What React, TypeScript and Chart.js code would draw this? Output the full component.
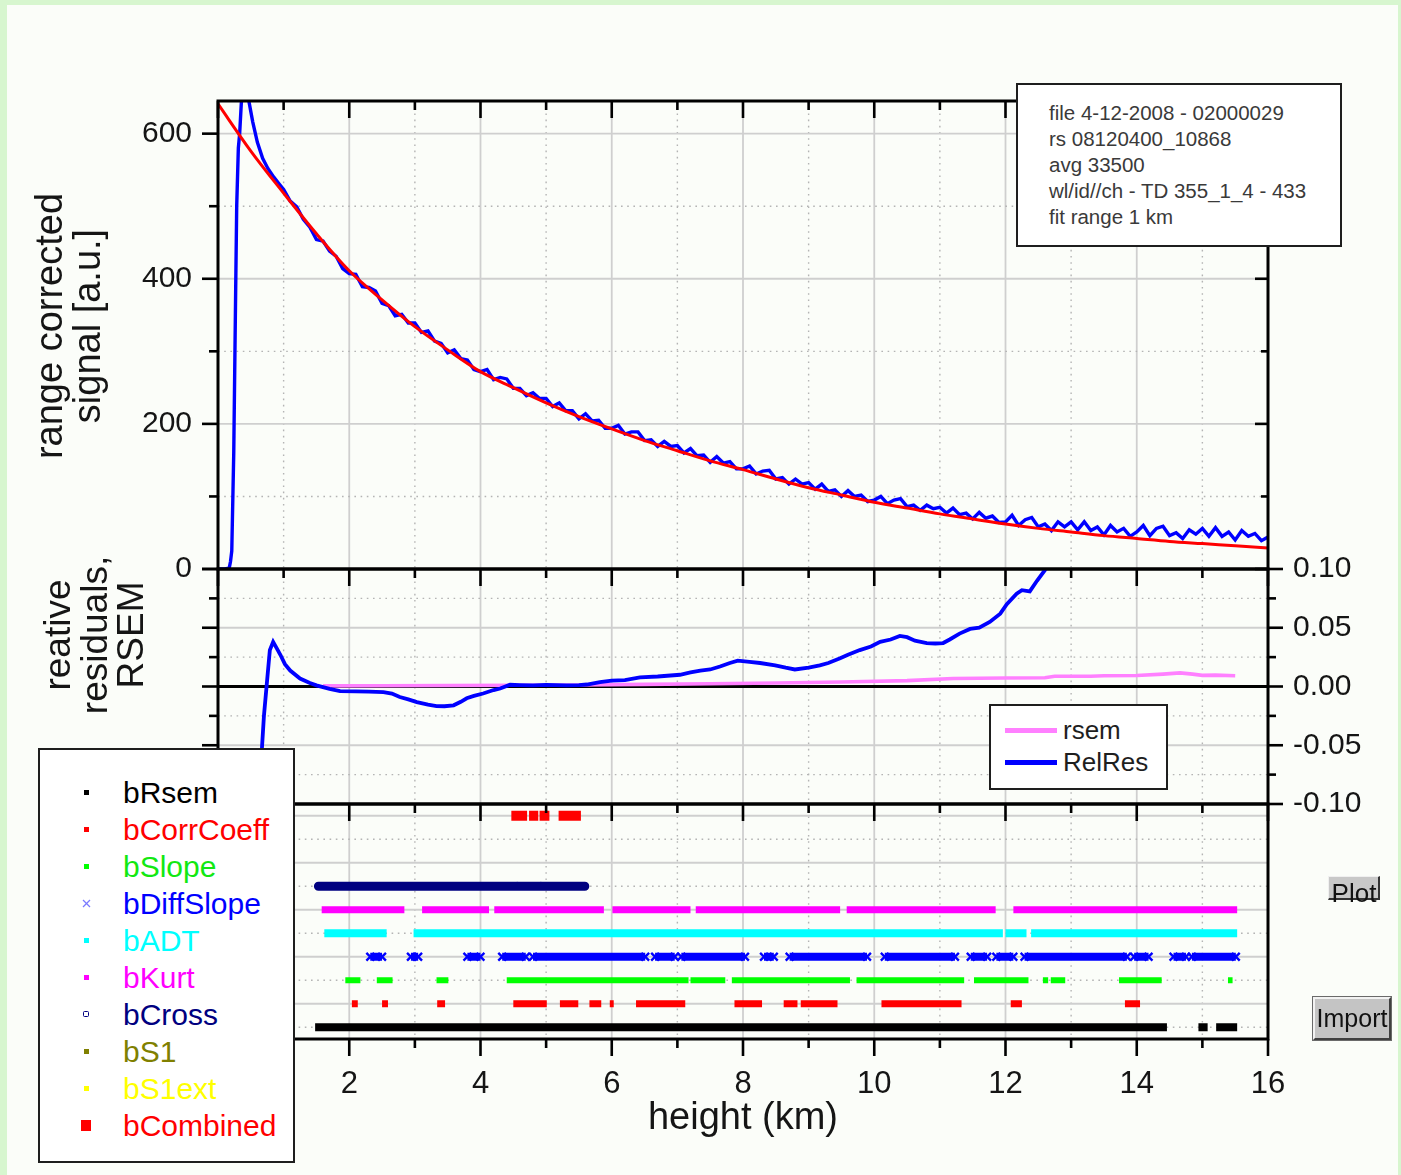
import React, { useEffect, useRef } from "react";
import { Chart, registerables } from "chart.js";
Chart.register(...registerables);

const FONT = '"Liberation Sans", Arial, Helvetica, sans-serif';
const TICK_COLOR = "#151515";

// ---------------- top panel: range corrected signal ----------------
const FIT_X = [0, 0.5, 1, 1.5, 2, 2.5, 3, 3.5, 4, 4.5, 5, 5.5, 6, 6.5, 7, 7.5, 8, 8.5, 9, 9.5, 10, 10.5, 11, 11.5, 12, 12.5, 13, 13.5, 14, 14.5, 15, 15.5, 16];
const FIT_Y = [641, 576, 518, 462, 411, 371, 334, 302, 272, 250, 229, 210, 193, 177, 163, 149, 137, 124, 112, 102, 92, 84, 76, 69, 62, 56, 51, 46, 42, 38, 35, 32, 29];

const SIGNAL_HEAD_X = [0, 0.1, 0.17, 0.19, 0.21, 0.24, 0.27, 0.285, 0.31, 0.33, 0.36, 0.4, 0.44, 0.47, 0.53, 0.6, 0.68, 0.76, 0.85, 0.93];
const SIGNAL_HEAD_Y = [0, 0, 1, 10, 25, 160, 390, 500, 580, 600, 650, 700, 690, 645, 616, 588, 566, 552, 540, 531];
// from 1.0 km to 16.0 km every 0.1 km
const SIGNAL_TAIL_START = 1.0;
const SIGNAL_TAIL_STEP = 0.1;
const SIGNAL_TAIL_Y = [
  523, 507, 499, 482, 471, 454, 452, 438, 431, 414,
  407, 406, 389, 388, 383, 366, 363, 349, 351, 339,
  339, 326, 328, 314, 311, 298, 302, 290, 288, 275,
  272, 275, 261, 264, 262, 249, 249, 239, 243, 235,
  235, 224, 229, 218, 218, 207, 214, 204, 205, 194,
  194, 198, 186, 189, 189, 177, 178, 169, 176, 169,
  170, 160, 166, 156, 157, 147, 155, 146, 148, 138,
  138, 142, 131, 135, 136, 124, 126, 117, 124, 117,
  119, 110, 117, 107, 109, 100, 108, 100, 102, 93,
  95, 100, 90, 95, 97, 86, 88, 81, 88, 83,
  85, 77, 84, 75, 77, 69, 78, 70, 73, 64,
  65, 74, 60, 68, 71, 58, 62, 53, 65, 58,
  65, 54, 65, 53, 58, 47, 60, 51, 56, 45,
  51, 60, 46, 56, 59, 46, 50, 42, 54, 48,
  56, 45, 57, 45, 51, 40, 53, 45, 49, 39,
  44,
];

// ---------------- middle panel: residuals ----------------
const RELRES: [number, number][] = [
  [0.55, -0.3], [0.63, -0.1], [0.67, -0.052], [0.7, -0.025], [0.74, 0.0], [0.79, 0.031], [0.84, 0.038],
  [0.9, 0.032], [0.95, 0.027], [1.02, 0.019], [1.1, 0.0136], [1.25, 0.0068], [1.4, 0.003], [1.5, 0.001],
  [1.7, -0.002], [1.86, -0.004], [2.1, -0.0042], [2.3, -0.0043], [2.52, -0.0048], [2.65, -0.006],
  [2.77, -0.009], [2.9, -0.011], [3.03, -0.0133], [3.2, -0.0155], [3.33, -0.0167], [3.45, -0.0168],
  [3.59, -0.016], [3.7, -0.013], [3.79, -0.01], [3.9, -0.008], [4.04, -0.006], [4.2, -0.003],
  [4.3, -0.0017], [4.45, 0.0015], [4.6, 0.0012], [4.8, 0.001], [5.0, 0.0013], [5.31, 0.001],
  [5.5, 0.0012], [5.62, 0.0017], [5.82, 0.0037], [6.0, 0.005], [6.2, 0.0055], [6.43, 0.0077],
  [6.7, 0.0085], [7.04, 0.01], [7.2, 0.012], [7.35, 0.0136], [7.5, 0.0145], [7.65, 0.017], [7.8, 0.02],
  [7.92, 0.022], [8.1, 0.021], [8.26, 0.02], [8.49, 0.018], [8.65, 0.016], [8.79, 0.0145], [9.0, 0.016],
  [9.17, 0.018], [9.3, 0.02], [9.48, 0.024], [9.6, 0.027], [9.78, 0.031], [9.95, 0.034], [10.09, 0.038],
  [10.25, 0.04], [10.39, 0.043], [10.5, 0.042], [10.62, 0.039], [10.8, 0.037], [10.93, 0.0366],
  [11.05, 0.037], [11.15, 0.04], [11.3, 0.045], [11.46, 0.049], [11.6, 0.05], [11.76, 0.055],
  [11.92, 0.062], [12.02, 0.07], [12.17, 0.079], [12.25, 0.082], [12.37, 0.081], [12.48, 0.09],
  [12.6, 0.099], [12.7, 0.11],
];
const RSEM: [number, number][] = [
  [1.6, 0.0005], [2.5, 0.0006], [3.5, 0.0008], [4.5, 0.001], [5.5, 0.0013], [6.5, 0.0018], [7.5, 0.0024],
  [8.5, 0.003], [9.5, 0.0038], [10.5, 0.005], [11.2, 0.0068], [12.0, 0.0072], [12.6, 0.0075],
  [12.75, 0.0087], [13.3, 0.0087], [13.5, 0.0092], [14.0, 0.0093], [14.4, 0.0105], [14.66, 0.0116],
  [14.85, 0.0105], [15.0, 0.0095], [15.2, 0.0097], [15.5, 0.0092],
];

// ---------------- bottom panel: flags (segments in km) ----------------
type Seg = [number, number];
const B_RSEM: Seg[] = [[1.48, 14.46], [14.94, 15.08], [15.21, 15.53]];
const B_CORRCOEFF: Seg[] = [[2.04, 2.13], [2.5, 2.59], [3.34, 3.46], [4.5, 5.01], [5.21, 5.49], [5.66, 5.84], [5.97, 6.03], [6.37, 7.12], [7.87, 8.29], [8.62, 8.83], [8.88, 9.44], [10.11, 11.33], [12.08, 12.25], [13.82, 14.05]];
const B_SLOPE: Seg[] = [[1.94, 2.17], [2.42, 2.66], [3.33, 3.51], [4.4, 7.17], [7.2, 7.73], [7.83, 9.63], [9.73, 11.37], [11.52, 12.35], [12.57, 12.65], [12.69, 12.91], [13.73, 14.38], [15.39, 15.46]];
const B_DIFFSLOPE: Seg[] = [[2.32, 2.5], [2.94, 3.05], [3.8, 4.0], [4.33, 4.69], [4.8, 6.51], [6.66, 6.96], [7.06, 8.03], [8.32, 8.47], [8.71, 9.89], [10.16, 11.23], [11.47, 11.72], [11.86, 12.12], [12.29, 13.85], [13.96, 14.18], [14.56, 14.75], [14.84, 15.51]];
const B_ADT: Seg[] = [[1.62, 2.57], [2.98, 11.96], [12.0, 12.32], [12.39, 15.53]];
const B_KURT: Seg[] = [[1.58, 2.84], [3.11, 4.13], [4.21, 5.88], [6.01, 7.2], [7.28, 9.48], [9.58, 11.85], [12.12, 15.53]];
const B_CROSS: Seg[] = [[1.53, 4.55], [4.57, 4.91], [4.93, 5.59]];
const B_S1: Seg[] = [];
const B_S1EXT: Seg[] = [];
const B_COMBINED: Seg[] = [[4.47, 4.71], [4.74, 4.88], [4.9, 5.05], [5.19, 5.53]];

const FLAG_NAMES = ["bRsem", "bCorrCoeff", "bSlope", "bDiffSlope", "bADT", "bKurt", "bCross", "bS1", "bS1ext", "bCombined"];
const FLAG_ROWS = [1, 2, 3, 4, 5, 6, 7, 8, 9, 10];
const FLAG_SEGMENTS = [B_RSEM, B_CORRCOEFF, B_SLOPE, B_DIFFSLOPE, B_ADT, B_KURT, B_CROSS, B_S1, B_S1EXT, B_COMBINED];

// styles
const FLAG_COLORS = ["#000000", "#ff0000", "#00ff00", "#0000ff", "#00ffff", "#ff00ff", "#000080", "#808000", "#ffff00", "#ff0000"];
const FLAG_TEXT_COLORS = ["#000000", "#ff0000", "#12e812", "#0000ff", "#00ffff", "#ff00ff", "#000080", "#808000", "#ffff00", "#ff0000"];
const FLAG_WIDTHS = [8, 7, 6, 8, 8, 7, 9, 6, 6, 10];
const FLAG_MARKERS = ["sq", "sq", "sq", "x", "sq", "sq", "o", "sq", "sq", "big"];

const INFO_LINES = ["file 4-12-2008 - 02000029", "rs 08120400_10868", "avg 33500", "wl/id//ch - TD 355_1_4 - 433", "fit range 1 km"];
const TOP_TITLE = ["range corrected", "signal [a.u.]"];
const MID_TITLE = ["reative", "residuals,", "RSEM"];

const GRID_MAJOR = "#cfcfcf";
const GRID_MINOR = "#b4b4b4";

interface DecorCfg {
  yMajor: (v: number) => boolean;
  left: number; // 1 out, -1 in, 0 none
  right: number;
  top: number;
  bottom: number;
  zero?: boolean;
  extra?: (chart: any) => void;
}

function decor(cfg: DecorCfg) {
  return {
    id: "decor",
    beforeDatasetsDraw(chart: any) {
      const { ctx, chartArea: a } = chart;
      const xs = chart.scales.x;
      const ys = chart.scales.y;
      ctx.save();
      const ln = (x1: number, y1: number, x2: number, y2: number, major: boolean) => {
        ctx.beginPath();
        ctx.setLineDash(major ? [] : [1.6, 4.6]);
        ctx.strokeStyle = major ? GRID_MAJOR : GRID_MINOR;
        ctx.lineWidth = major ? 1.8 : 1.4;
        ctx.moveTo(x1, y1);
        ctx.lineTo(x2, y2);
        ctx.stroke();
      };
      for (const t of xs.ticks) {
        const v = t.value;
        if (v <= xs.min || v >= xs.max) continue;
        const p = xs.getPixelForValue(v);
        ln(p, a.top, p, a.bottom, Math.round(v) % 2 === 0);
      }
      for (const t of ys.ticks) {
        const v = t.value;
        if (v <= ys.min + 1e-9 || v >= ys.max - 1e-9) continue;
        const p = ys.getPixelForValue(v);
        ln(a.left, p, a.right, p, cfg.yMajor(v));
      }
      if (cfg.zero) {
        ctx.setLineDash([]);
        ctx.strokeStyle = "#000";
        ctx.lineWidth = 3;
        const p = ys.getPixelForValue(0);
        ctx.beginPath();
        ctx.moveTo(a.left, p);
        ctx.lineTo(a.right, p);
        ctx.stroke();
      }
      ctx.restore();
    },
    afterDatasetsDraw(chart: any) {
      const { ctx, chartArea: a } = chart;
      const xs = chart.scales.x;
      const ys = chart.scales.y;
      ctx.save();
      ctx.setLineDash([]);
      ctx.strokeStyle = "#000";
      ctx.lineWidth = 2.6;
      const seg = (x1: number, y1: number, x2: number, y2: number) => {
        ctx.beginPath();
        ctx.moveTo(x1, y1);
        ctx.lineTo(x2, y2);
        ctx.stroke();
      };
      for (const t of xs.ticks) {
        const v = t.value;
        const p = xs.getPixelForValue(v);
        const len = Math.round(v) % 2 === 0 ? 17 : 9;
        if (cfg.top === -1) seg(p, a.top, p, a.top + len);
        if (cfg.bottom === 1) seg(p, a.bottom, p, a.bottom + len);
      }
      for (const t of ys.ticks) {
        const v = t.value;
        const p = ys.getPixelForValue(v);
        const major = cfg.yMajor(v);
        const lenL = major ? 16 : 9;
        const lenR = major ? 15 : 8;
        if (cfg.left === 1) seg(a.left - lenL, p, a.left, p);
        if (cfg.right === 1) seg(a.right, p, a.right + lenR, p);
        if (cfg.right === -1) seg(a.right - (major ? 13 : 7), p, a.right, p);
      }
      ctx.lineWidth = 3;
      ctx.strokeRect(a.left, a.top, a.right - a.left, a.bottom - a.top);
      ctx.restore();
    },
    afterDraw(chart: any) {
      if (cfg.extra) cfg.extra(chart);
    },
  };
}

// vertical multi-line axis title drawn on the canvas
const drawVTitle = (chart: any, lines: string[], xs: number[], yCenter: number, size: number) => {
  const ctx = chart.ctx;
  ctx.save();
  ctx.font = `${size}px ${FONT}`;
  ctx.fillStyle = TICK_COLOR;
  ctx.textAlign = "center";
  ctx.textBaseline = "middle";
  lines.forEach((s, i) => {
    ctx.save();
    ctx.translate(xs[i], yCenter);
    ctx.rotate(-Math.PI / 2);
    ctx.fillText(s, 0, 0);
    ctx.restore();
  });
  ctx.restore();
};

const hiddenX = (h: number) => ({
  type: "linear" as const,
  min: 0,
  max: 16,
  ticks: { stepSize: 1, display: false, autoSkip: false },
  grid: { display: false, drawTicks: false },
  border: { display: false },
  afterFit: (s: any) => {
    s.height = h;
    s.paddingLeft = 0;
    s.paddingRight = 0;
  },
});

// fixes a vertical axis to an exact width and removes its label overhang padding
const fixWidth = (w: number) => (s: any) => {
  s.width = w;
  s.paddingTop = 0;
  s.paddingBottom = 0;
};

const baseOpts = {
  responsive: false,
  animation: false as const,
  devicePixelRatio: 1,
  events: [] as any[],
  plugins: { legend: { display: false }, tooltip: { enabled: false } },
};

export default function App() {
  const topRef = useRef<HTMLCanvasElement>(null);
  const midRef = useRef<HTMLCanvasElement>(null);
  const botRef = useRef<HTMLCanvasElement>(null);

  useEffect(() => {
    document.body.style.overflow = "hidden";
    const charts: Chart[] = [];

    const signal = [
      ...SIGNAL_HEAD_X.map((x, i) => ({ x, y: SIGNAL_HEAD_Y[i] })),
      ...SIGNAL_TAIL_Y.map((y, i) => ({ x: +(SIGNAL_TAIL_START + i * SIGNAL_TAIL_STEP).toFixed(2), y })),
    ];
    const fit = FIT_X.map((x, i) => ({ x, y: FIT_Y[i] }));

    charts.push(
      new Chart(topRef.current!, {
        type: "line",
        data: {
          datasets: [
            { label: "fit", data: fit, borderColor: "#ff0000", borderWidth: 3, pointRadius: 0, cubicInterpolationMode: "monotone", order: 0 } as any,
            { label: "signal", data: signal, borderColor: "#0000ff", borderWidth: 3.4, pointRadius: 0, tension: 0, order: 1 } as any,
          ],
        },
        options: {
          ...baseOpts,
          layout: { autoPadding: false, padding: { left: 0, right: 133, top: 101, bottom: 0 } },
          scales: {
            x: hiddenX(31),
            y: {
              type: "linear",
              position: "left",
              min: 0,
              max: 645,
              ticks: {
                stepSize: 100,
                includeBounds: false,
                autoSkip: false,
                padding: 26,
                color: TICK_COLOR,
                font: { family: FONT, size: 30 },
                callback: (v: any) => (Math.round(v) % 200 === 0 ? String(v) : ""),
              },
              grid: { display: false, drawTicks: false },
              border: { display: false },
              afterFit: fixWidth(218),
            },
          },
        } as any,
        plugins: [
          decor({
            yMajor: (v) => Math.round(v) % 200 === 0,
            left: 1,
            right: -1,
            top: -1,
            bottom: 0,
            extra: (chart: any) => drawVTitle(chart, TOP_TITLE, [51.5, 90], 326, 38),
          }),
        ],
      })
    );

    const midTop = 540;
    charts.push(
      new Chart(midRef.current!, {
        type: "line",
        data: {
          datasets: [
            { label: "RelRes", data: RELRES.map(([x, y]) => ({ x, y })), borderColor: "#0000ff", borderWidth: 3.8, pointRadius: 0, tension: 0, order: 0 } as any,
            { label: "rsem", data: RSEM.map(([x, y]) => ({ x, y })), borderColor: "#ff80ff", borderWidth: 3.6, pointRadius: 0, tension: 0, order: 1 } as any,
          ],
        },
        options: {
          ...baseOpts,
          layout: { autoPadding: false, padding: { left: 218, right: 0, top: 29, bottom: 0 } },
          scales: {
            x: hiddenX(36),
            y: {
              type: "linear",
              position: "right",
              min: -0.1,
              max: 0.1,
              ticks: {
                stepSize: 0.025,
                autoSkip: false,
                padding: 25,
                color: TICK_COLOR,
                font: { family: FONT, size: 30 },
                callback: (v: any) => {
                  const n = Number(v);
                  if (Math.abs(Math.round(n / 0.025)) % 2 !== 0) return "";
                  return Math.abs(n) < 1e-9 ? "0.00" : n.toFixed(2);
                },
              },
              grid: { display: false, drawTicks: false },
              border: { display: false },
              afterFit: fixWidth(133),
            },
          },
        } as any,
        plugins: [
          decor({
            yMajor: (v) => Math.abs(Math.round(v / 0.025)) % 2 === 0,
            left: 1,
            right: 1,
            top: -1,
            bottom: 0,
            zero: true,
            extra: (chart: any) => drawVTitle(chart, MID_TITLE, [60, 96.5, 133], 635 - midTop, 37),
          }),
        ],
      })
    );

    const flagSets = FLAG_NAMES.map((name, i) => {
      const isX = FLAG_MARKERS[i] === "x";
      return {
        label: name,
        data: FLAG_SEGMENTS[i].flatMap(([a, b]) => [
          { x: a, y: FLAG_ROWS[i] },
          { x: b, y: FLAG_ROWS[i] },
          { x: b, y: null },
        ]),
        borderColor: FLAG_COLORS[i],
        borderWidth: FLAG_WIDTHS[i],
        borderCapStyle: name === "bCross" ? "round" : "butt",
        pointRadius: isX ? 5.5 : 0,
        pointStyle: "crossRot",
        pointBorderColor: FLAG_COLORS[i],
        pointBorderWidth: 2.4,
        tension: 0,
        spanGaps: false,
      };
    });

    charts.push(
      new Chart(botRef.current!, {
        type: "line",
        data: { datasets: flagSets as any },
        options: {
          ...baseOpts,
          layout: { autoPadding: false, padding: { left: 0, right: 133, top: 24, bottom: 0 } },
          scales: {
            x: {
              type: "linear",
              min: 0,
              max: 16,
              ticks: {
                stepSize: 1,
                autoSkip: false,
                maxRotation: 0,
                padding: 27,
                color: TICK_COLOR,
                font: { family: FONT, size: 31 },
                callback: (v: any) => (Math.round(v) % 2 === 0 ? String(v) : ""),
              },
              grid: { display: false, drawTicks: false },
              border: { display: false },
              title: {
                display: true,
                text: "height (km)",
                color: TICK_COLOR,
                font: { family: FONT, size: 38 },
                padding: { top: 0, bottom: 34 },
              },
              afterFit: (s: any) => {
                s.height = 136;
                s.paddingLeft = 0;
                s.paddingRight = 0;
              },
            },
            y: {
              type: "linear",
              min: 0.5,
              max: 10.5,
              ticks: { display: false },
              afterBuildTicks: (s: any) => {
                s.ticks = FLAG_ROWS.map((v) => ({ value: v }));
              },
              grid: { display: false, drawTicks: false },
              border: { display: false },
              afterFit: fixWidth(218),
            },
          },
        } as any,
        plugins: [decor({ yMajor: (v) => Math.round(v) % 2 === 0, left: 0, right: 0, top: -1, bottom: 1 })],
      })
    );

    return () => charts.forEach((c) => c.destroy());
  }, []);

  const abs = (s: React.CSSProperties): React.CSSProperties => ({ position: "absolute", ...s });

  const marker = (kind: string, color: string) => {
    if (kind === "x")
      return (
        <svg width={9} height={9} style={abs({ left: 43.5, top: 14 })}>
          <line x1={1} y1={1} x2={8} y2={8} stroke="#7a7aff" strokeWidth={1.3} />
          <line x1={8} y1={1} x2={1} y2={8} stroke="#7a7aff" strokeWidth={1.3} />
        </svg>
      );
    if (kind === "o")
      return <span style={abs({ left: 45, top: 15.5, width: 4, height: 4, border: `1.5px solid ${color}`, borderRadius: 1.5 })} />;
    if (kind === "big") return <span style={abs({ left: 43, top: 13, width: 10, height: 11, background: color })} />;
    return <span style={abs({ left: 45.5, top: 16, width: 5.5, height: 5.5, background: color })} />;
  };

  return (
    <div style={abs({ left: 0, top: 0, width: 1401, height: 1175, overflow: "hidden", background: "#d7f6cf", fontFamily: FONT })}>
      <div style={abs({ left: 7, top: 5, width: 1391, height: 1170, background: "#fbfdf9" })} />
      <canvas ref={topRef} width={1401} height={600} style={abs({ left: 0, top: 0 })} />
      <canvas ref={midRef} width={1401} height={300} style={abs({ left: 0, top: 540 })} />
      <canvas ref={botRef} width={1401} height={395} style={abs({ left: 0, top: 780 })} />

      {/* info box */}
      <div style={abs({ left: 1016, top: 83, width: 326, height: 164, boxSizing: "border-box", border: "2px solid #1e1e1e", background: "#ffffff" })} />
      <div style={abs({ left: 1049, top: 100, fontSize: 20.5, lineHeight: "26px", color: "#3a3a3a", whiteSpace: "pre" })}>
        {INFO_LINES.map((l) => (
          <div key={l}>{l}</div>
        ))}
      </div>

      {/* residual legend */}
      <div style={abs({ left: 989, top: 704, width: 179, height: 86, boxSizing: "border-box", border: "2px solid #1e1e1e", background: "#ffffff" })} />
      <div style={abs({ left: 1005, top: 728, width: 52, height: 4.5, background: "#ff80ff" })} />
      <div style={abs({ left: 1005, top: 760, width: 52, height: 4.5, background: "#0000ff" })} />
      <div style={abs({ left: 1063, top: 714, fontSize: 26, lineHeight: "32px", color: "#1e1e1e" })}>rsem</div>
      <div style={abs({ left: 1063, top: 746, fontSize: 26, lineHeight: "32px", color: "#1e1e1e" })}>RelRes</div>

      {/* flag legend */}
      <div style={abs({ left: 38, top: 748, width: 257, height: 415, boxSizing: "border-box", border: "2px solid #1e1e1e", background: "#ffffff" })} />
      {FLAG_NAMES.map((name, i) => (
        <div key={name} style={abs({ left: 38, top: 773.5 + 37 * i, width: 257, height: 37 })}>
          {marker(FLAG_MARKERS[i], FLAG_COLORS[i])}
          <span style={abs({ left: 85, top: 0, fontSize: 30, lineHeight: "37px", color: FLAG_TEXT_COLORS[i], whiteSpace: "pre" })}>{name}</span>
        </div>
      ))}

      {/* buttons */}
      <div style={abs({ left: 1328, top: 876, width: 52, height: 24, boxSizing: "border-box", background: "#c8c8c8", borderTop: "1px solid #f0f0f0", borderLeft: "1px solid #f0f0f0", borderRight: "2px solid #333", borderBottom: "2px solid #333" })} />
      <div style={abs({ left: 1328, top: 878, width: 52, textAlign: "center", fontSize: 26, lineHeight: "30px", color: "#111" })}>Plot</div>
      <div style={abs({ left: 1313, top: 997, width: 78, height: 43, boxSizing: "border-box", background: "#c4c4c4", borderTop: "2px solid #f2f2f2", borderLeft: "2px solid #f2f2f2", borderRight: "2px solid #404040", borderBottom: "2px solid #404040", outline: "1px solid #6a6a6a" })} />
      <div style={abs({ left: 1313, top: 1003, width: 78, textAlign: "center", fontSize: 25, lineHeight: "30px", color: "#111" })}>Import</div>
    </div>
  );
}
